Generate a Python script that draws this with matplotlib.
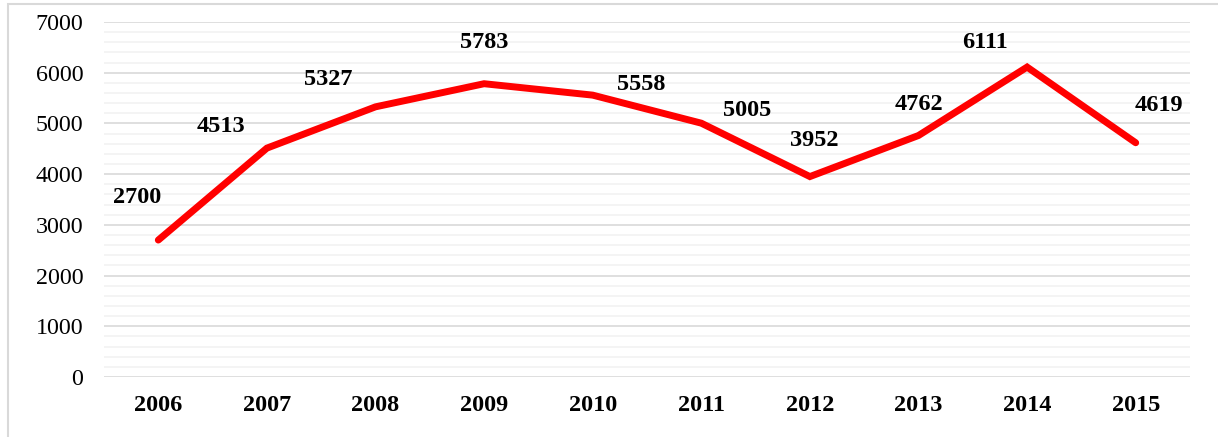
import numpy as np
import matplotlib.pyplot as plt
from matplotlib.patches import Rectangle

years = ['2006', '2007', '2008', '2009', '2010', '2011', '2012', '2013', '2014', '2015']
values = [2700, 4513, 5327, 5783, 5558, 5005, 3952, 4762, 6111, 4619]
# label offsets in pixels (dx, dy) from each point
label_off = [(-21, 43), (-46, 22), (-47, 27), (0, 41), (48, 11), (46, 13), (4, 36), (0, 31), (-42, 25), (23, 37)]

plt.rcParams['font.family'] = ['Liberation Serif', 'DejaVu Serif']

fig = plt.figure(figsize=(12.18, 4.37), dpi=100)
ax = fig.add_axes([104 / 1218, 1 - 377 / 437, (1190 - 104) / 1218, (377 - 22) / 437])

x = np.arange(len(years))
ax.plot(x, values, color='#ff0000', lw=5, solid_capstyle='round', solid_joinstyle='miter', zorder=3)

for xi, v, (dx, dy) in zip(x, values, label_off):
    ax.annotate(str(v), (xi, v), xytext=(dx * 0.72, dy * 0.72), textcoords='offset points',
                ha='center', va='center', fontsize=17.5, fontweight='bold', color='black')

ax.set_xlim(-0.5, len(years) - 0.5)
ax.set_ylim(0, 7000)
ax.set_yticks(np.arange(0, 7001, 1000))
ax.set_yticks(np.arange(0, 7001, 200), minor=True)
ax.tick_params(axis='y', which='both', length=0, labelsize=17.3, pad=15)
ax.set_xticks(x)
ax.set_xticklabels(years, fontsize=17.5, fontweight='bold')
ax.tick_params(axis='x', length=0, pad=13)
ax.grid(axis='y', which='major', color='#d9d9d9', lw=1.2)
ax.grid(axis='y', which='minor', color='#f2f2f2', lw=1.2)
ax.set_axisbelow(True)
for s in ax.spines.values():
    s.set_visible(False)

fig.patches.append(Rectangle((8 / 1218, -0.1), 1.2, 1.1 - 4 / 437, transform=fig.transFigure,
                             fill=False, edgecolor='#d9d9d9', lw=1.5))

fig.savefig('out.png', dpi=100)
